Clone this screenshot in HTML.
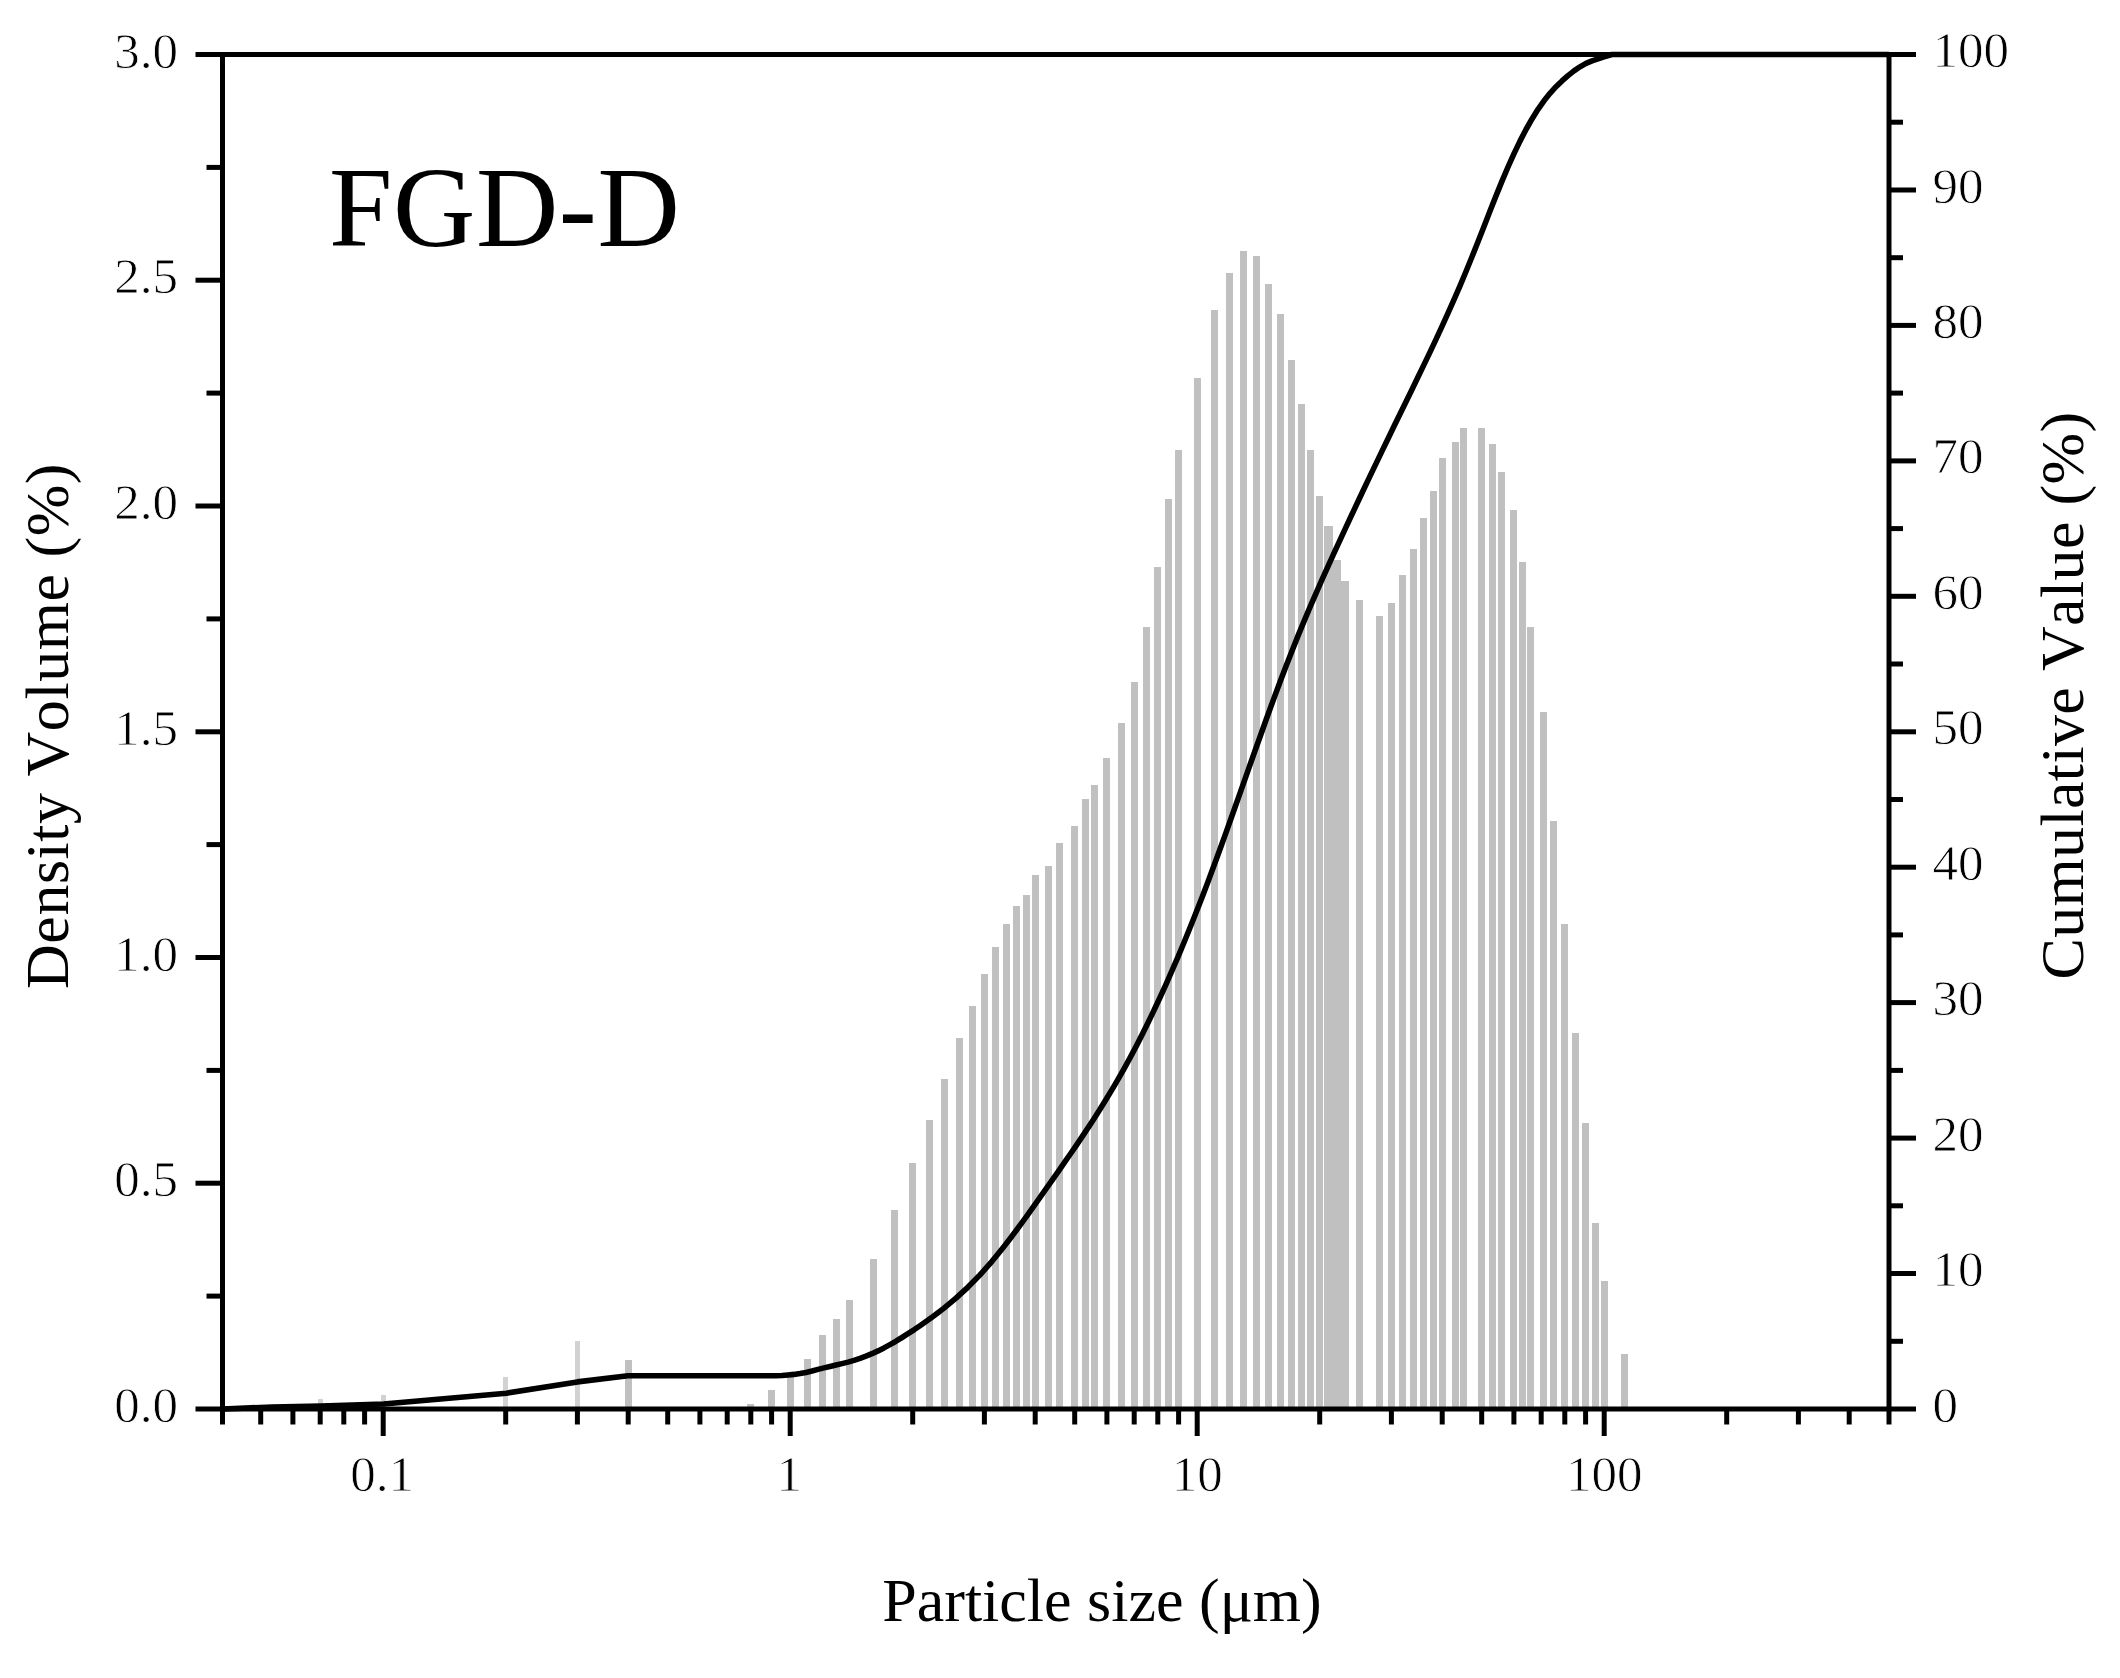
<!DOCTYPE html>
<html><head><meta charset="utf-8"><title>FGD-D</title>
<style>html,body{margin:0;padding:0;background:#fff}svg{display:block}text{font-family:"Liberation Serif",serif;fill:#000;font-kerning:none}.tl text{stroke:#fff;stroke-width:0.8px}</style></head><body>
<svg width="2120" height="1678" viewBox="0 0 2120 1678">
<rect width="2120" height="1678" fill="#fff"/>
<g fill="#c0c0c0" shape-rendering="crispEdges">
<rect x="317.7" y="1398.5" width="5" height="10.5" fill="#d2d2d2"/>
<rect x="380.7" y="1395.0" width="5" height="14.0" fill="#d2d2d2"/>
<rect x="503.2" y="1376.5" width="5" height="32.5" fill="#d2d2d2"/>
<rect x="574.9" y="1340.5" width="5" height="68.5" fill="#d2d2d2"/>
<rect x="624.7" y="1359.5" width="7" height="49.5"/>
<rect x="747.3" y="1403.5" width="7" height="5.5"/>
<rect x="768.1" y="1389.5" width="7" height="19.5"/>
<rect x="786.7" y="1377.0" width="7" height="32.0"/>
<rect x="803.5" y="1359.0" width="7" height="50.0"/>
<rect x="818.9" y="1335.0" width="7" height="74.0"/>
<rect x="833.1" y="1319.0" width="7" height="90.0"/>
<rect x="846.2" y="1299.5" width="7" height="109.5"/>
<rect x="869.8" y="1259.0" width="7" height="150.0"/>
<rect x="890.6" y="1209.5" width="7" height="199.5"/>
<rect x="909.2" y="1163.0" width="7" height="246.0"/>
<rect x="926.1" y="1119.5" width="7" height="289.5"/>
<rect x="941.4" y="1079.0" width="7" height="330.0"/>
<rect x="955.6" y="1038.0" width="7" height="371.0"/>
<rect x="968.7" y="1005.5" width="7" height="403.5"/>
<rect x="980.9" y="974.0" width="7" height="435.0"/>
<rect x="992.3" y="947.0" width="7" height="462.0"/>
<rect x="1003.0" y="924.0" width="7" height="485.0"/>
<rect x="1013.1" y="906.0" width="7" height="503.0"/>
<rect x="1022.7" y="894.5" width="7" height="514.5"/>
<rect x="1031.7" y="875.0" width="7" height="534.0"/>
<rect x="1044.5" y="866.0" width="7" height="543.0"/>
<rect x="1056.4" y="842.5" width="7" height="566.5"/>
<rect x="1071.2" y="826.0" width="7" height="583.0"/>
<rect x="1081.5" y="799.0" width="7" height="610.0"/>
<rect x="1091.2" y="785.0" width="7" height="624.0"/>
<rect x="1103.4" y="758.0" width="7" height="651.0"/>
<rect x="1117.6" y="722.5" width="7" height="686.5"/>
<rect x="1130.7" y="681.5" width="7" height="727.5"/>
<rect x="1142.8" y="627.0" width="7" height="782.0"/>
<rect x="1154.3" y="567.0" width="7" height="842.0"/>
<rect x="1165.0" y="499.0" width="7" height="910.0"/>
<rect x="1175.1" y="450.0" width="7" height="959.0"/>
<rect x="1193.7" y="378.0" width="7" height="1031.0"/>
<rect x="1210.5" y="309.5" width="7" height="1099.5"/>
<rect x="1225.9" y="273.0" width="7" height="1136.0"/>
<rect x="1240.1" y="251.0" width="7" height="1158.0"/>
<rect x="1253.2" y="256.0" width="7" height="1153.0"/>
<rect x="1265.4" y="284.0" width="7" height="1125.0"/>
<rect x="1276.8" y="314.0" width="7" height="1095.0"/>
<rect x="1287.5" y="360.0" width="7" height="1049.0"/>
<rect x="1297.6" y="404.0" width="7" height="1005.0"/>
<rect x="1307.2" y="450.0" width="7" height="959.0"/>
<rect x="1316.2" y="496.0" width="7" height="913.0"/>
<rect x="1324.1" y="526.0" width="8.4" height="883.0"/>
<rect x="1332.4" y="560.0" width="8.4" height="849.0"/>
<rect x="1340.2" y="581.0" width="8.4" height="828.0"/>
<rect x="1355.7" y="599.5" width="7" height="809.5"/>
<rect x="1375.7" y="616.0" width="7" height="793.0"/>
<rect x="1387.9" y="602.5" width="7" height="806.5"/>
<rect x="1399.3" y="575.0" width="7" height="834.0"/>
<rect x="1410.0" y="549.0" width="7" height="860.0"/>
<rect x="1420.1" y="517.5" width="7" height="891.5"/>
<rect x="1429.7" y="490.5" width="7" height="918.5"/>
<rect x="1438.7" y="458.0" width="7" height="951.0"/>
<rect x="1451.5" y="442.0" width="7" height="967.0"/>
<rect x="1459.6" y="428.0" width="7" height="981.0"/>
<rect x="1478.2" y="428.0" width="7" height="981.0"/>
<rect x="1488.5" y="444.0" width="7" height="965.0"/>
<rect x="1498.2" y="471.5" width="7" height="937.5"/>
<rect x="1510.4" y="509.5" width="7" height="899.5"/>
<rect x="1519.0" y="562.0" width="7" height="847.0"/>
<rect x="1527.3" y="627.0" width="7" height="782.0"/>
<rect x="1540.2" y="712.0" width="7" height="697.0"/>
<rect x="1549.8" y="820.5" width="7" height="588.5"/>
<rect x="1561.3" y="924.0" width="7" height="485.0"/>
<rect x="1572.0" y="1033.0" width="7" height="376.0"/>
<rect x="1582.1" y="1122.5" width="7" height="286.5"/>
<rect x="1591.6" y="1223.0" width="7" height="186.0"/>
<rect x="1600.7" y="1281.0" width="7" height="128.0"/>
<rect x="1620.7" y="1354.0" width="7" height="55.0"/>
</g>
<path d="M223.0,1409.0 L272.0,1407.0 L321.0,1406.0 L383.5,1404.0 L506.4,1393.2 L577.4,1381.9 L628.0,1375.8 L704.0,1375.8 L710.0,1375.8 L716.0,1375.8 L722.0,1375.8 L728.0,1375.8 L734.0,1375.8 L740.0,1375.8 L746.0,1375.8 L752.0,1375.8 L758.0,1375.8 L764.0,1375.8 L770.0,1375.8 L776.0,1375.7 L782.0,1375.5 L788.0,1375.0 L794.0,1374.4 L800.0,1373.5 L806.0,1372.4 L812.0,1371.0 L818.0,1369.4 L824.0,1367.9 L830.0,1366.5 L836.0,1365.1 L842.0,1363.6 L848.0,1362.1 L854.0,1360.4 L860.0,1358.4 L866.0,1356.2 L872.0,1353.7 L878.0,1350.9 L884.0,1347.9 L890.0,1344.6 L896.0,1341.2 L902.0,1337.5 L908.0,1333.7 L914.0,1329.8 L920.0,1325.7 L926.0,1321.5 L932.0,1317.2 L938.0,1312.7 L944.0,1308.1 L950.0,1303.2 L956.0,1298.1 L962.0,1292.7 L968.0,1287.1 L974.0,1281.1 L980.0,1274.9 L986.0,1268.2 L992.0,1261.3 L998.0,1254.0 L1004.0,1246.5 L1010.0,1238.7 L1016.0,1230.7 L1022.0,1222.6 L1028.0,1214.3 L1034.0,1205.9 L1040.0,1197.4 L1046.0,1188.9 L1052.0,1180.4 L1058.0,1171.8 L1064.0,1163.2 L1070.0,1154.5 L1076.0,1145.8 L1082.0,1136.9 L1088.0,1127.9 L1094.0,1118.7 L1100.0,1109.2 L1106.0,1099.6 L1112.0,1089.6 L1118.0,1079.4 L1124.0,1068.8 L1130.0,1057.9 L1136.0,1046.6 L1142.0,1034.9 L1148.0,1022.8 L1154.0,1010.3 L1160.0,997.5 L1166.0,984.3 L1172.0,970.7 L1178.0,956.8 L1184.0,942.5 L1190.0,927.8 L1196.0,912.8 L1202.0,897.4 L1208.0,881.7 L1214.0,865.6 L1220.0,849.2 L1226.0,832.6 L1232.0,815.8 L1238.0,798.9 L1244.0,781.9 L1250.0,764.9 L1256.0,748.0 L1262.0,731.2 L1268.0,714.5 L1274.0,698.1 L1280.0,682.0 L1286.0,666.2 L1292.0,650.9 L1298.0,635.9 L1304.0,621.4 L1310.0,607.2 L1316.0,593.3 L1322.0,579.7 L1328.0,566.4 L1334.0,553.2 L1340.0,540.1 L1346.0,527.1 L1352.0,514.3 L1358.0,501.5 L1364.0,488.8 L1370.0,476.1 L1376.0,463.6 L1382.0,451.1 L1388.0,438.7 L1394.0,426.3 L1400.0,414.0 L1406.0,401.7 L1412.0,389.4 L1418.0,377.0 L1424.0,364.6 L1430.0,352.1 L1436.0,339.4 L1442.0,326.4 L1448.0,313.2 L1454.0,299.7 L1460.0,285.8 L1466.0,271.5 L1472.0,256.8 L1478.0,241.7 L1484.0,226.4 L1490.0,211.0 L1496.0,195.9 L1502.0,181.1 L1508.0,167.0 L1514.0,153.6 L1520.0,141.1 L1526.0,129.5 L1532.0,118.9 L1538.0,109.3 L1544.0,100.8 L1550.0,93.3 L1556.0,86.7 L1562.0,80.9 L1568.0,75.6 L1574.0,70.9 L1580.0,66.8 L1586.0,63.3 L1592.0,60.8 L1598.0,58.9 L1604.0,56.8 L1612.0,54.5 L1889.0,54.5" fill="none" stroke="#000" stroke-width="5.6" stroke-linejoin="round"/>
<g stroke="#000" stroke-width="5" fill="none">
<rect x="222.5" y="54.5" width="1666.5" height="1354.5"/>
<line x1="195.5" y1="1409.0" x2="222.5" y2="1409.0"/>
<line x1="206.5" y1="1296.1" x2="222.5" y2="1296.1"/>
<line x1="195.5" y1="1183.2" x2="222.5" y2="1183.2"/>
<line x1="206.5" y1="1070.4" x2="222.5" y2="1070.4"/>
<line x1="195.5" y1="957.5" x2="222.5" y2="957.5"/>
<line x1="206.5" y1="844.6" x2="222.5" y2="844.6"/>
<line x1="195.5" y1="731.8" x2="222.5" y2="731.8"/>
<line x1="206.5" y1="618.9" x2="222.5" y2="618.9"/>
<line x1="195.5" y1="506.0" x2="222.5" y2="506.0"/>
<line x1="206.5" y1="393.1" x2="222.5" y2="393.1"/>
<line x1="195.5" y1="280.2" x2="222.5" y2="280.2"/>
<line x1="206.5" y1="167.4" x2="222.5" y2="167.4"/>
<line x1="195.5" y1="54.5" x2="222.5" y2="54.5"/>
<line x1="1889.0" y1="1409.0" x2="1916.0" y2="1409.0"/>
<line x1="1889.0" y1="1341.3" x2="1903.0" y2="1341.3"/>
<line x1="1889.0" y1="1273.5" x2="1916.0" y2="1273.5"/>
<line x1="1889.0" y1="1205.8" x2="1903.0" y2="1205.8"/>
<line x1="1889.0" y1="1138.1" x2="1916.0" y2="1138.1"/>
<line x1="1889.0" y1="1070.4" x2="1903.0" y2="1070.4"/>
<line x1="1889.0" y1="1002.6" x2="1916.0" y2="1002.6"/>
<line x1="1889.0" y1="934.9" x2="1903.0" y2="934.9"/>
<line x1="1889.0" y1="867.2" x2="1916.0" y2="867.2"/>
<line x1="1889.0" y1="799.5" x2="1903.0" y2="799.5"/>
<line x1="1889.0" y1="731.8" x2="1916.0" y2="731.8"/>
<line x1="1889.0" y1="664.0" x2="1903.0" y2="664.0"/>
<line x1="1889.0" y1="596.3" x2="1916.0" y2="596.3"/>
<line x1="1889.0" y1="528.6" x2="1903.0" y2="528.6"/>
<line x1="1889.0" y1="460.9" x2="1916.0" y2="460.9"/>
<line x1="1889.0" y1="393.1" x2="1903.0" y2="393.1"/>
<line x1="1889.0" y1="325.4" x2="1916.0" y2="325.4"/>
<line x1="1889.0" y1="257.7" x2="1903.0" y2="257.7"/>
<line x1="1889.0" y1="190.0" x2="1916.0" y2="190.0"/>
<line x1="1889.0" y1="122.2" x2="1903.0" y2="122.2"/>
<line x1="1889.0" y1="54.5" x2="1916.0" y2="54.5"/>
<line x1="222.5" y1="1409.0" x2="222.5" y2="1424.5"/>
<line x1="260.7" y1="1409.0" x2="260.7" y2="1424.5"/>
<line x1="292.9" y1="1409.0" x2="292.9" y2="1424.5"/>
<line x1="320.2" y1="1409.0" x2="320.2" y2="1424.5"/>
<line x1="343.8" y1="1409.0" x2="343.8" y2="1424.5"/>
<line x1="364.6" y1="1409.0" x2="364.6" y2="1424.5"/>
<line x1="383.2" y1="1409.0" x2="383.2" y2="1436.0"/>
<line x1="505.7" y1="1409.0" x2="505.7" y2="1424.5"/>
<line x1="577.4" y1="1409.0" x2="577.4" y2="1424.5"/>
<line x1="628.2" y1="1409.0" x2="628.2" y2="1424.5"/>
<line x1="667.7" y1="1409.0" x2="667.7" y2="1424.5"/>
<line x1="699.9" y1="1409.0" x2="699.9" y2="1424.5"/>
<line x1="727.2" y1="1409.0" x2="727.2" y2="1424.5"/>
<line x1="750.8" y1="1409.0" x2="750.8" y2="1424.5"/>
<line x1="771.6" y1="1409.0" x2="771.6" y2="1424.5"/>
<line x1="790.2" y1="1409.0" x2="790.2" y2="1436.0"/>
<line x1="912.7" y1="1409.0" x2="912.7" y2="1424.5"/>
<line x1="984.4" y1="1409.0" x2="984.4" y2="1424.5"/>
<line x1="1035.2" y1="1409.0" x2="1035.2" y2="1424.5"/>
<line x1="1074.7" y1="1409.0" x2="1074.7" y2="1424.5"/>
<line x1="1106.9" y1="1409.0" x2="1106.9" y2="1424.5"/>
<line x1="1134.2" y1="1409.0" x2="1134.2" y2="1424.5"/>
<line x1="1157.8" y1="1409.0" x2="1157.8" y2="1424.5"/>
<line x1="1178.6" y1="1409.0" x2="1178.6" y2="1424.5"/>
<line x1="1197.2" y1="1409.0" x2="1197.2" y2="1436.0"/>
<line x1="1319.7" y1="1409.0" x2="1319.7" y2="1424.5"/>
<line x1="1391.4" y1="1409.0" x2="1391.4" y2="1424.5"/>
<line x1="1442.2" y1="1409.0" x2="1442.2" y2="1424.5"/>
<line x1="1481.7" y1="1409.0" x2="1481.7" y2="1424.5"/>
<line x1="1513.9" y1="1409.0" x2="1513.9" y2="1424.5"/>
<line x1="1541.2" y1="1409.0" x2="1541.2" y2="1424.5"/>
<line x1="1564.8" y1="1409.0" x2="1564.8" y2="1424.5"/>
<line x1="1585.6" y1="1409.0" x2="1585.6" y2="1424.5"/>
<line x1="1604.2" y1="1409.0" x2="1604.2" y2="1436.0"/>
<line x1="1726.7" y1="1409.0" x2="1726.7" y2="1424.5"/>
<line x1="1798.4" y1="1409.0" x2="1798.4" y2="1424.5"/>
<line x1="1849.2" y1="1409.0" x2="1849.2" y2="1424.5"/>
<line x1="1889.0" y1="1409.0" x2="1889.0" y2="1424.5"/>
</g>
<g class="tl" font-size="51">
<text x="178" y="1422.0" text-anchor="end">0.0</text>
<text x="178" y="1196.2" text-anchor="end">0.5</text>
<text x="178" y="970.5" text-anchor="end">1.0</text>
<text x="178" y="744.8" text-anchor="end">1.5</text>
<text x="178" y="519.0" text-anchor="end">2.0</text>
<text x="178" y="293.2" text-anchor="end">2.5</text>
<text x="178" y="67.5" text-anchor="end">3.0</text>
<text x="1932.5" y="1421.5">0</text>
<text x="1932.5" y="1286.0">10</text>
<text x="1932.5" y="1150.6">20</text>
<text x="1932.5" y="1015.1">30</text>
<text x="1932.5" y="879.7">40</text>
<text x="1932.5" y="744.2">50</text>
<text x="1932.5" y="608.8">60</text>
<text x="1932.5" y="473.4">70</text>
<text x="1932.5" y="337.9">80</text>
<text x="1932.5" y="202.5">90</text>
<text x="1932.5" y="67.0">100</text>
<text x="382.2" y="1491" text-anchor="middle">0.1</text>
<text x="789.2" y="1491" text-anchor="middle">1</text>
<text x="1197.2" y="1491" text-anchor="middle">10</text>
<text x="1604.2" y="1491" text-anchor="middle">100</text>
</g>
<text x="329" y="245.5" font-size="114" letter-spacing="0.6">FGD-D</text>
<text x="1102" y="1620.5" font-size="62" text-anchor="middle">Particle size (μm)</text>
<text transform="translate(68,726) rotate(-90)" font-size="62" letter-spacing="0.52" text-anchor="middle">Density Volume (%)</text>
<text transform="translate(2083,695.5) rotate(-90)" font-size="62" letter-spacing="0.34" text-anchor="middle">Cumulative Value (%)</text>
</svg></body></html>
